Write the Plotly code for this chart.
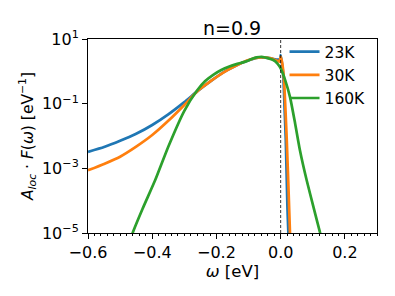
import plotly.graph_objects as go

# --- data ---
omega_23K = [-0.6, -0.55, -0.5, -0.45, -0.4, -0.35, -0.3, -0.26, -0.22, -0.18, -0.14, -0.1,
             -0.064, -0.03, -0.01, -0.002, 0.0, 0.004, 0.008, 0.012, 0.016, 0.021, 0.024, 0.028]
A_23K = [3.24e-3, 4.57e-3, 7.08e-3, 1.17e-2, 2.19e-2, 4.68e-2, 0.112, 0.240, 0.479, 0.912, 1.48, 2.19,
         2.69, 2.51, 2.29, 2.40, 3.16, 1.78, 0.794, 7.94e-2, 7.41e-3, 6.46e-5, 1e-5, 1e-6]

omega_30K = [-0.6, -0.55, -0.5, -0.45, -0.4, -0.35, -0.3, -0.26, -0.22, -0.18, -0.14, -0.1,
             -0.064, -0.03, -0.012, -0.004, 0.0, 0.004, 0.01, 0.015, 0.019, 0.025, 0.029, 0.033]
A_30K = [8.71e-4, 1.37e-3, 2.29e-3, 4.68e-3, 1.07e-2, 2.95e-2, 9.12e-2, 0.240, 0.479, 0.891, 1.48, 2.24,
         2.69, 2.51, 2.14, 2.0, 2.82, 2.0, 0.631, 6.31e-2, 7.41e-3, 1.58e-4, 1e-5, 1e-6]

omega_160K = [-0.48, -0.461, -0.43, -0.391, -0.35, -0.3, -0.261, -0.235, -0.21, -0.185, -0.16, -0.135,
              -0.11, -0.09, -0.075, -0.059, -0.04, -0.023, -0.01, 0.0, 0.014, 0.029, 0.045, 0.06,
              0.081, 0.102, 0.123, 0.14]
A_160K = [2.5e-6, 1e-5, 5.62e-5, 4.27e-4, 4.68e-3, 6.03e-2, 0.251, 0.50, 0.78, 1.10, 1.41, 1.70,
          2.00, 2.40, 2.69, 2.82, 2.57, 2.24, 1.74, 1.23, 0.537, 0.162, 2.45e-2, 3.63e-3,
          4.27e-4, 6.46e-5, 1e-5, 2.5e-6]

series_names = ["23K", "30K", "160K"]
series_colors = ["#1f77b4", "#ff7f0e", "#2ca02c"]

y_tickvals = [10, 0.1, 1e-3, 1e-5]
y_ticktext = ["10<sup>1</sup>", "10<sup>−1</sup>", "10<sup>−3</sup>", "10<sup>−5</sup>"]
x_tickvals = [-0.6, -0.4, -0.2, 0.0, 0.2]
x_ticktext = ["−0.6", "−0.4", "−0.2", "0.0", "0.2"]

FONT = "DejaVu Sans"

fig = go.Figure()
for om, A, name, col in zip([omega_23K, omega_30K, omega_160K], [A_23K, A_30K, A_160K],
                            series_names, series_colors):
    fig.add_trace(go.Scatter(x=om, y=A, mode="lines", name=name,
                             line=dict(color=col, width=2.7, shape="spline", smoothing=0.5)))

fig.add_vline(x=0, line=dict(color="black", width=0.8, dash="3px,2px"))

# the page body has an 8px margin, so the figure is sized/offset to compensate
fig.update_layout(
    width=387, height=288,
    margin=dict(l=80, r=18, t=31, b=63),
    paper_bgcolor="white", plot_bgcolor="white",
    font=dict(family=FONT, size=16, color="black"),
    title=dict(text="n=0.9", x=0.579, xanchor="center", y=0.929, yanchor="middle",
               font=dict(size=19, family=FONT, color="black")),
    legend=dict(x=0.68, y=1.02, xanchor="left", yanchor="top", bgcolor="rgba(0,0,0,0)",
                font=dict(size=15.5, family=FONT, color="black"), tracegroupgap=0,
                itemwidth=30),
    showlegend=True,
)

fig.update_xaxes(
    range=[-0.6, 0.3], tickvals=x_tickvals, ticktext=x_ticktext,
    ticks="outside", ticklen=5, tickcolor="black", tickwidth=1,
    showline=True, linecolor="black", linewidth=1, mirror=True, showgrid=False, zeroline=False,
    tickfont=dict(size=16, family=FONT, color="black"),
    minor=dict(dtick=0.02, tick0=0, ticks="outside", ticklen=2, tickcolor="black", showgrid=False),
    title=dict(text="<i>ω</i> [eV]", font=dict(size=16.5, family=FONT, color="black"), standoff=2),
)
fig.update_yaxes(
    type="log", range=[-5, 1], tickvals=y_tickvals, ticktext=y_ticktext,
    ticks="outside", ticklen=5, tickcolor="black", tickwidth=1,
    showline=True, linecolor="black", linewidth=1, mirror=True, showgrid=False, zeroline=False,
    tickfont=dict(size=16, family=FONT, color="black"),
    title=dict(text="<i>A<sub>loc</sub></i> · <i>F</i>(<i>ω</i>) [eV<sup>−1</sup>]",
               font=dict(size=15.5, family=FONT, color="black"), standoff=4),
)

fig.write_html("out.html")
